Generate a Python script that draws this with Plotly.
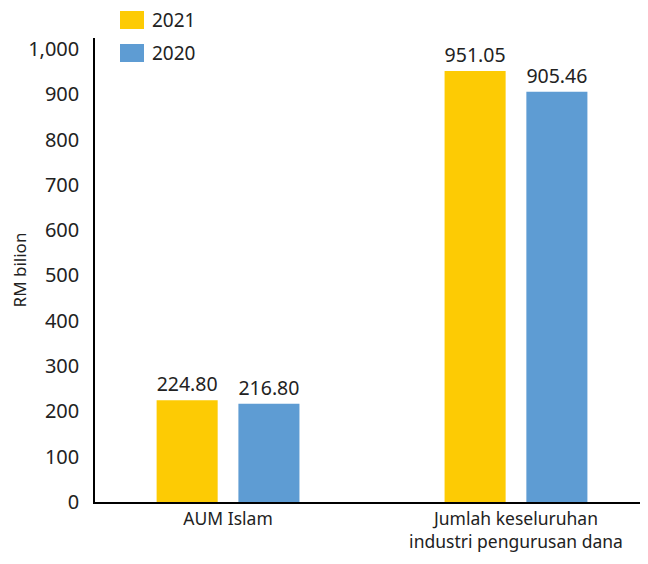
import plotly.graph_objects as go

categories = ["AUM Islam", "Jumlah keseluruhan<br>industri pengurusan dana"]
series_names = ["2021", "2020"]
values_2021 = [224.80, 951.05]
values_2020 = [216.80, 905.46]
tick_vals = [0, 100, 200, 300, 400, 500, 600, 700, 800, 900, 1000]
tick_text = ["0", "100", "200", "300", "400", "500", "600", "700", "800", "900", "1,000"]
colors = ["#FDCB04", "#5E9CD3"]

FONT = "Noto Sans"
TXT = "#222222"
x_pos = list(range(len(categories)))
bar_w = 0.212
offsets = [-0.248, 0.036]

# figure geometry (page adds an 8px body margin)
W, H = 640, 556
ML, MR, MT, MB = 87, 3, 30, 62
PW, PH = W - ML - MR, H - MT - MB

fig = go.Figure()
for name, vals, col, off in zip(series_names, [values_2021, values_2020], colors, offsets):
    fig.add_trace(go.Bar(
        x=x_pos, y=vals, name=name, marker_color=col, marker_line_width=0,
        width=bar_w, offset=off,
        texttemplate="%{y:.2f}", textposition="outside",
        textfont=dict(family=FONT, size=20, color=TXT),
        cliponaxis=False, showlegend=False,
    ))

fig.update_layout(
    width=W, height=H,
    margin=dict(l=ML, r=MR, t=MT, b=MB),
    plot_bgcolor="white", paper_bgcolor="white",
    barmode="overlay",
    font=dict(family=FONT, size=18, color=TXT),
    xaxis=dict(
        tickmode="array", tickvals=x_pos, ticktext=categories,
        range=[-0.462, 1.448], showline=True, linecolor="black", linewidth=1.5,
        showgrid=False, ticks="", zeroline=False,
        tickfont=dict(family=FONT, size=17.5, color=TXT),
    ),
    yaxis=dict(
        tickmode="array", tickvals=tick_vals, ticktext=tick_text,
        range=[0, 1024], showline=True, linecolor="black", linewidth=1.5,
        showgrid=False, ticks="", zeroline=False, ticklabelstandoff=10,
        tickfont=dict(family=FONT, size=20, color=TXT),
        title=dict(text="RM bilion", font=dict(family=FONT, size=17, color=TXT), standoff=3),
    ),
)

def px_x(x):
    return (x - 8 - ML) / PW

def px_y(y):
    return (H - MB - (y - 8)) / PH

shapes = []
annotations = []
for i, (name, col) in enumerate(zip(series_names, colors)):
    top = 11 + i * 33
    shapes.append(dict(type="rect", xref="paper", yref="paper",
                       x0=px_x(120), x1=px_x(144),
                       y0=px_y(top + 18), y1=px_y(top),
                       fillcolor=col, line_width=0))
    annotations.append(dict(xref="paper", yref="paper", x=px_x(150),
                            y=px_y(top + 9), text=name, showarrow=False,
                            xanchor="left", yanchor="middle",
                            font=dict(family=FONT, size=19, color=TXT)))
fig.update_layout(shapes=shapes, annotations=annotations)

fig.write_html("out.html")
